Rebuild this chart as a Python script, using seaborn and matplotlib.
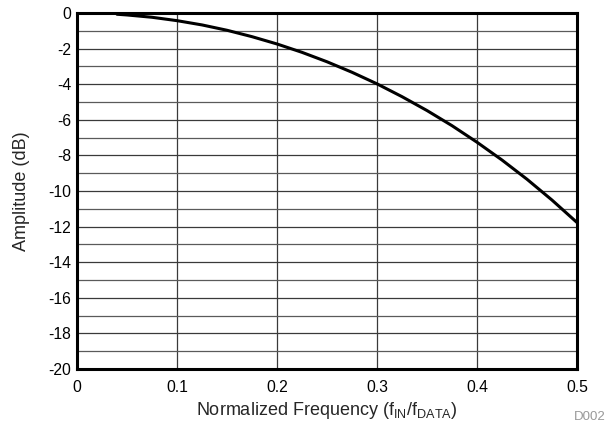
import matplotlib
matplotlib.use("Agg")
import matplotlib.pyplot as plt
import seaborn as sns
import pandas as pd
from matplotlib.ticker import MultipleLocator

# Data
freq = [0.04, 0.05, 0.075, 0.1, 0.125, 0.15, 0.175, 0.2, 0.225, 0.25, 0.275,
        0.3, 0.325, 0.35, 0.375, 0.4, 0.425, 0.45, 0.475, 0.5]
amplitude = [-0.07, -0.11, -0.24, -0.43, -0.67, -0.97, -1.33, -1.74, -2.21, -2.74, -3.33,
             -3.98, -4.70, -5.48, -6.33, -7.26, -8.26, -9.34, -10.51, -11.77]
x_ticks = [0, 0.1, 0.2, 0.3, 0.4, 0.5]
x_tick_labels = ["0", "0.1", "0.2", "0.3", "0.4", "0.5"]
y_ticks = [0, -2, -4, -6, -8, -10, -12, -14, -16, -18, -20]
y_tick_labels = ["0", "-2", "-4", "-6", "-8", "-10", "-12", "-14", "-16", "-18", "-20"]

df = pd.DataFrame({"freq": freq, "amp": amplitude})

sns.set_theme(style="white")
plt.rcParams["font.family"] = ["Liberation Sans", "DejaVu Sans"]
plt.rcParams["axes.unicode_minus"] = False
plt.rcParams["mathtext.fontset"] = "custom"
plt.rcParams["mathtext.rm"] = "Liberation Sans"

TICK_FS = 11.3
LABEL_FS = 13

fig = plt.figure(figsize=(6.13, 4.25), dpi=100)
ax = fig.add_axes([77 / 613, 1 - 369 / 425, 500 / 613, 356 / 425])

sns.lineplot(data=df, x="freq", y="amp", ax=ax, color="black", linewidth=2.2)

ax.set_xlim(0, 0.5)
ax.set_ylim(-20, 0)
ax.set_xticks(x_ticks)
ax.set_xticklabels(x_tick_labels, fontsize=TICK_FS)
ax.set_yticks(y_ticks)
ax.set_yticklabels(y_tick_labels, fontsize=TICK_FS)
ax.yaxis.set_minor_locator(MultipleLocator(1))
ax.tick_params(axis="x", which="both", length=0, pad=8, colors="black")
ax.tick_params(axis="y", which="both", length=0, pad=4, colors="black")
ax.grid(True, which="major", color="#3a3a3a", linewidth=0.9)
ax.grid(True, which="minor", axis="y", color="#5a5a5a", linewidth=0.9)
ax.set_axisbelow(True)
for s in ax.spines.values():
    s.set_color("black")
    s.set_linewidth(2.2)

ax.set_xlabel(r"Normalized Frequency (f$_{\mathregular{IN}}$/f$_{\mathregular{DATA}}$)",
              fontsize=LABEL_FS)
ax.set_ylabel("Amplitude (dB)", fontsize=LABEL_FS)
ax.xaxis.set_label_coords(0.5, (369 - 415) / 356)
ax.xaxis.label.set_va("baseline")
ax.yaxis.set_label_coords(-0.094, 0.5)
fig.text(590 / 613, 1 - 417.5 / 425, "D002", fontsize=9.5, color="#999999",
         ha="center", va="center")

fig.savefig("out.png", dpi=100)
